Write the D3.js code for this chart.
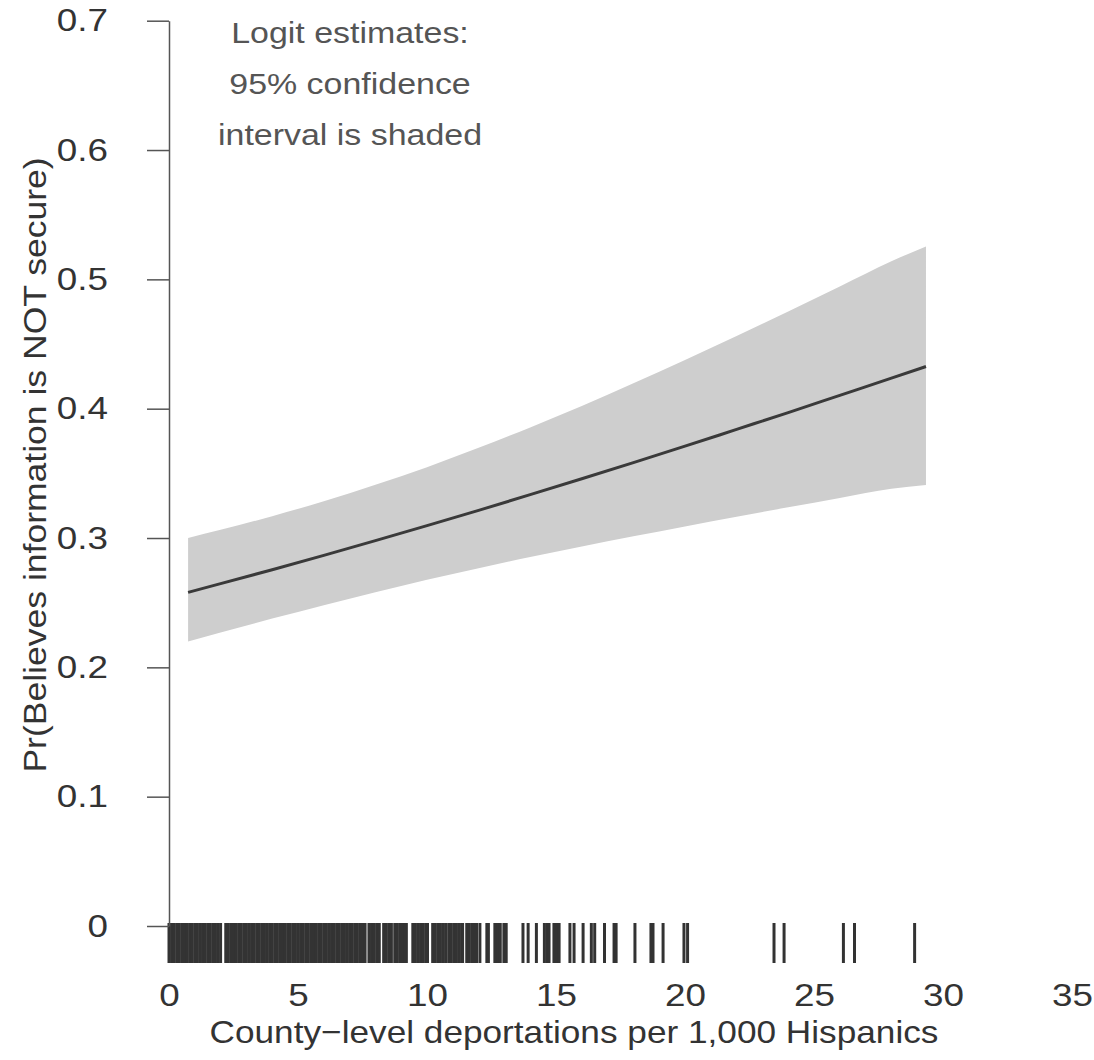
<!DOCTYPE html>
<html>
<head>
<meta charset="utf-8">
<script src="https://cdn.jsdelivr.net/npm/d3@7"></script>
<style>
  body { margin: 0; background: #fff; }
  text { font-family: "Liberation Sans", Arial, sans-serif; }
</style>
</head>
<body>
<div id="chart"></div>
<script>
// Data
const xGrid = [0.74, 2, 4, 6, 8, 10, 12, 14, 16, 18, 20, 22, 24, 26, 28, 29.34]
const fitValues = [0.2580, 0.2647, 0.2755, 0.2866, 0.2980, 0.3096, 0.3214, 0.3335, 0.3458, 0.3583, 0.3710, 0.3840, 0.3970, 0.4103, 0.4236, 0.4326]
const upperValues = [0.3001, 0.3063, 0.3169, 0.3284, 0.3411, 0.3548, 0.3697, 0.3855, 0.4021, 0.4196, 0.4377, 0.4562, 0.4752, 0.4945, 0.5140, 0.5254]
const lowerValues = [0.2200, 0.2269, 0.2377, 0.2481, 0.2581, 0.2677, 0.2767, 0.2853, 0.2935, 0.3014, 0.3090, 0.3165, 0.3237, 0.3309, 0.3380, 0.3410]

// rug of observed county values
const rugValues = [
  0.0, 0.1, 0.2, 0.3, 0.4, 0.5, 0.6, 0.7, 0.8, 0.9, 1.0, 1.1, 1.2, 1.3, 1.4, 1.5, 1.6, 1.7, 1.8, 1.9, 2.0,
  2.2, 2.3, 2.4, 2.5, 2.6, 2.7, 2.8, 2.9, 3.0, 3.1, 3.2, 3.3, 3.4, 3.5, 3.6, 3.7, 3.8, 3.9, 4.0,
  4.1, 4.2, 4.3, 4.4, 4.5, 4.6, 4.7, 4.8, 4.9, 5.0, 5.1, 5.2, 5.3, 5.4, 5.5, 5.6, 5.7, 5.8, 5.9, 6.0,
  6.1, 6.2, 6.3, 6.4, 6.5, 6.6, 6.7, 6.8, 6.9, 7.0, 7.1, 7.2, 7.3, 7.4, 7.5, 7.6,
  7.75, 7.85, 7.95, 8.05, 8.15, 8.32, 8.42, 8.52, 8.62,
  8.75, 8.85, 8.95, 9.05, 9.15, 9.2, 9.45, 9.55, 9.65, 9.75, 9.85, 9.95, 10.02,
  10.22, 10.32, 10.42, 10.52, 10.62, 10.72, 10.84, 10.94, 11.04, 11.14, 11.24, 11.34, 11.38,
  11.54, 11.64, 11.74, 11.84, 11.92, 12.05, 12.32, 12.38,
  12.63, 12.68, 12.74, 12.84, 12.98, 13.07, 13.72, 13.92, 14.24,
  14.55, 14.65, 14.73, 14.92, 15.02, 15.12, 15.54, 15.7, 16.05, 16.37, 16.5,
  16.88, 17.25, 17.33, 18.06, 18.68, 18.76, 19.15, 19.96, 20.1,
  23.45, 23.84, 26.14, 26.57, 28.9
]

const xTicks = [0, 5, 10, 15, 20, 25, 30, 35]
const yTicks = [0, 0.1, 0.2, 0.3, 0.4, 0.5, 0.6, 0.7]
const noteLines = ['Logit estimates:', '95% confidence', 'interval is shaded']

// Dimensions
const width = 1094
const height = 1060

const svg = d3.select('#chart')
  .append('svg')
  .attr('width', width)
  .attr('height', height)

// widen the glyphs a bit, the original font runs wider than Liberation Sans
function stretch(sel, k) {
  sel.each(function () {
    const len = this.getComputedTextLength()
    d3.select(this)
      .attr('textLength', len * k)
      .attr('lengthAdjust', 'spacingAndGlyphs')
  })
}

// SCALES
const xScale = d3.scaleLinear().domain([0, 35]).range([169, 1072])
const yScale = d3.scaleLinear().domain([0, 0.7]).range([926, 20.7])

const band = xGrid.map((x, i) => ({ x, fit: fitValues[i], lo: lowerValues[i], hi: upperValues[i] }))

// confidence band
const area = d3.area()
  .x(d => xScale(d.x))
  .y0(d => yScale(d.lo))
  .y1(d => yScale(d.hi))
  .curve(d3.curveMonotoneX)

svg.append('path')
  .datum(band)
  .attr('d', area)
  .attr('fill', '#cecece')

const line = d3.line()
  .x(d => xScale(d.x))
  .y(d => yScale(d.fit))
  .curve(d3.curveMonotoneX)

svg.append('path')
  .datum(band)
  .attr('d', line)
  .attr('fill', 'none')
  .attr('stroke', '#3a3a3a')
  .attr('stroke-width', 3)

// rug
svg.append('g')
  .selectAll('line')
  .data(rugValues)
  .join('line')
  .attr('x1', d => xScale(d))
  .attr('x2', d => xScale(d))
  .attr('y1', 923)
  .attr('y2', 963)
  .attr('stroke', '#333')
  .attr('stroke-width', 3)

// AXES
const yAxis = d3.axisLeft(yScale)
  .tickValues(yTicks)
  .tickFormat(d => d === 0 ? '0' : d3.format('.1f')(d))
  .tickSize(22)
  .tickSizeOuter(0)
  .tickPadding(39)

const yAxisGroup = svg.append('g')
  .attr('transform', 'translate(169,0)')
  .call(yAxis)
yAxisGroup.select('.domain').attr('stroke', '#555').attr('stroke-width', 1.5)
yAxisGroup.selectAll('.tick line').attr('stroke', '#555').attr('stroke-width', 1.5)
yAxisGroup.selectAll('.tick text')
  .attr('fill', '#333')
  .style('font-size', '32px')
  .call(stretch, 1.15)

const xAxis = d3.axisBottom(xScale)
  .tickValues(xTicks)
  .tickSize(0)
  .tickPadding(0)

const xAxisGroup = svg.append('g')
  .attr('transform', 'translate(0,983)')
  .call(xAxis)
xAxisGroup.select('.domain').remove()
xAxisGroup.selectAll('.tick text')
  .attr('fill', '#333')
  .style('font-size', '32px')
  .call(stretch, 1.15)

// axis titles
svg.append('text')
  .attr('x', 574)
  .attr('y', 1043)
  .attr('text-anchor', 'middle')
  .attr('fill', '#333')
  .style('font-size', '32px')
  .text('County\u2212level deportations per 1,000 Hispanics')
  .call(stretch, 1.1)

svg.append('text')
  .attr('transform', 'translate(46,465) rotate(-90)')
  .attr('text-anchor', 'middle')
  .attr('fill', '#333')
  .style('font-size', '32px')
  .text('Pr(Believes information is NOT secure)')
  .call(stretch, 1.11)

// note
svg.append('g')
  .selectAll('text')
  .data(noteLines)
  .join('text')
  .attr('x', 350)
  .attr('y', (d, i) => 43 + i * 51)
  .attr('text-anchor', 'middle')
  .attr('fill', '#555')
  .style('font-size', '29px')
  .text(d => d)
  .call(stretch, 1.17)
</script>
</body>
</html>
